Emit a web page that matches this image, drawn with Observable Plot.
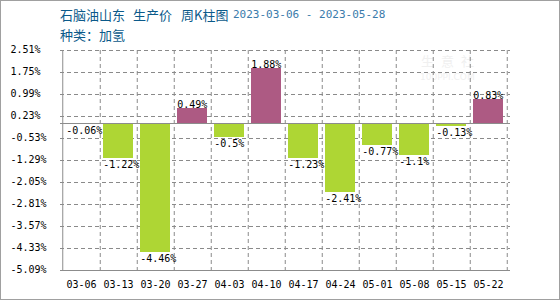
<!DOCTYPE html>
<html>
<head>
<meta charset="utf-8">
<script src="https://cdn.jsdelivr.net/npm/d3@7"></script>
<script src="https://cdn.jsdelivr.net/npm/@observablehq/plot@0.6"></script>
<style>
  html, body { margin: 0; padding: 0; background: #fff; }
  #wrap { position: relative; width: 560px; height: 300px; overflow: hidden; background: #fff; }
  #frame { position: absolute; left: 0; top: 0; width: 560px; height: 300px; box-sizing: border-box; border: 1px solid #a0a0a0; pointer-events: none; }
  .t { position: absolute; white-space: pre; font-family: "Noto Sans CJK SC", sans-serif; font-size: 13px; line-height: 13px; color: #0b5a8a; }
  .d { position: absolute; white-space: pre; font-family: "DejaVu Sans Mono", monospace; font-size: 11px; line-height: 13px; color: #3a7bab; }
  .wm { position: absolute; white-space: pre; color: #f1f1f1; }
  #chart { position: absolute; left: 0; top: 0; }
</style>
</head>
<body>
<div id="wrap">
  <div class="wm" style="left:421px;top:54px;font-family:'Noto Sans CJK SC';font-size:13px;line-height:14px;letter-spacing:7px;color:#f0f0f0;">生意社</div>
  <div class="wm" style="left:420px;top:73px;font-family:'DejaVu Sans';font-size:9px;line-height:9px;color:#f0f0f0;">100PPI.COM</div>
  <div id="chart"></div>
  <div class="t" style="left:60px;top:8px;">石脑油山东</div>
  <div class="t" style="left:133px;top:8px;">生产价</div>
  <div class="t" style="left:181px;top:8px;">周K柱图</div>
  <div class="d" style="left:233px;top:8px;">2023-03-06 - 2023-05-28</div>
  <div class="t" style="left:60px;top:28px;">种类：加氢</div>
  <div id="frame"></div>
</div>
<script>
const categories = ["03-06","03-13","03-20","03-27","04-03","04-10","04-17","04-24","05-01","05-08","05-15","05-22"];
const values = [-0.06, -1.22, -4.46, 0.49, -0.5, 1.88, -1.23, -2.41, -0.77, -1.1, -0.13, 0.83];
const yTicks = [2.51, 1.75, 0.99, 0.23, -0.53, -1.29, -2.05, -2.81, -3.57, -4.33, -5.09];
const yDomain = [-5.09, 2.51];

const data = categories.map((c, i) => ({cat: c, value: values[i]}));
const green = "#aed634";
const purple = "#ad5a83";
const gridColor = "#8a8a8a";
const axisColor = "#8c8c8c";

const W = 560, H = 300, mL = 60, mR = 50, mT = 50, mB = 30;
const padIn = 0.18;
const step = (W - mL - mR) / categories.length;
const bw = step * (1 - padIn);

const chart = Plot.plot({
  width: W, height: H,
  marginTop: mT, marginBottom: mB, marginLeft: mL, marginRight: mR,
  style: {fontFamily: "DejaVu Sans Mono", fontSize: "10px", background: "transparent", color: "#000", overflow: "visible"},
  x: {type: "band", domain: categories, paddingInner: padIn, paddingOuter: padIn / 2, axis: null},
  y: {domain: yDomain, axis: null, round: true},
  marks: [
    Plot.ruleY(yTicks, {stroke: gridColor, strokeDasharray: "4 3"}),
    Plot.ruleX(categories, {dx: step / 2, stroke: gridColor, strokeDasharray: "4 3"}),
    Plot.barY(data, {filter: d => d.value < 0, x: "cat", y: "value", fill: green}),
    Plot.barY(data, {filter: d => d.value >= 0, x: "cat", y: "value", fill: purple}),
    Plot.ruleY([0], {stroke: axisColor}),
    Plot.ruleY([yDomain[0]], {stroke: axisColor}),
    Plot.ruleX([categories[0]], {dx: -step / 2, stroke: axisColor}),
    Plot.text(data, {filter: d => d.value < 0, x: "cat", y: "value", text: d => d.value + "%", textAnchor: "start", lineAnchor: "top", dx: -bw / 2, dy: 2, fill: "#000"}),
    Plot.text(data, {filter: d => d.value >= 0, x: "cat", y: "value", text: d => d.value + "%", textAnchor: "start", lineAnchor: "bottom", dx: -bw / 2, dy: -1, fill: "#000"}),
    Plot.text(yTicks, {text: d => d.toFixed(2) + "%", frameAnchor: "left", textAnchor: "start", dx: -50, dy: -1, fill: "#000", y: d => d}),
    Plot.text(categories, {text: d => d, frameAnchor: "bottom", dy: 17, fill: "#000", x: d => d})
  ]
});
document.getElementById("chart").appendChild(chart);
</script>
</body>
</html>
